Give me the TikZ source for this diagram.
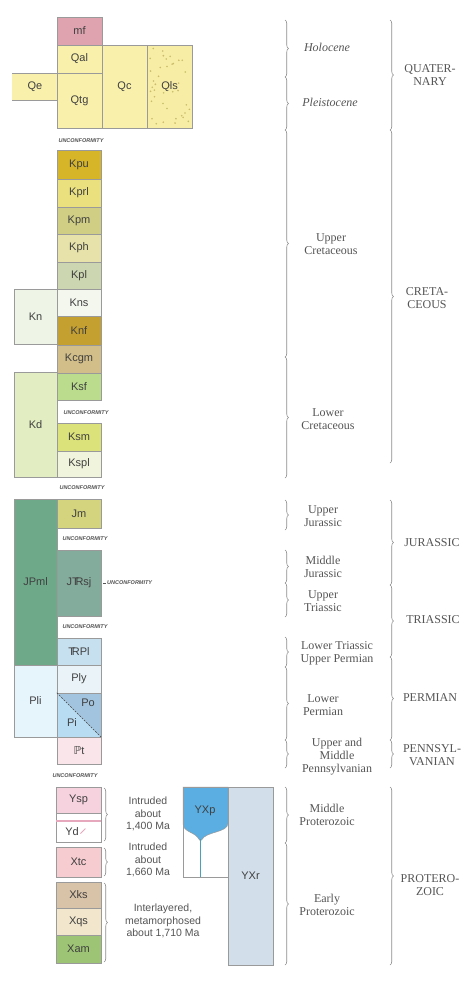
\documentclass[tikz,border=0pt]{standalone}
\usepackage{fontspec}
\setmainfont{Liberation Serif}
\setsansfont{Liberation Sans}
\newfontfamily\symfont{DejaVu Sans}
\usetikzlibrary{decorations.pathreplacing}

\definecolor{bordergray}{HTML}{9A9A9A}
\definecolor{labelgray}{HTML}{404040}
\definecolor{textgray}{HTML}{555555}
\definecolor{bracegray}{HTML}{8C8C8C}
\definecolor{cmf}{HTML}{DEA3AE}
\definecolor{cq}{HTML}{F9F0AC}
\definecolor{cqls}{HTML}{F7EDA4}
\definecolor{cdot}{HTML}{C9BC6A}
\definecolor{ckpu}{HTML}{D6B628}
\definecolor{ckprl}{HTML}{EAE07E}
\definecolor{ckpm}{HTML}{CFCE84}
\definecolor{ckph}{HTML}{E6E2AA}
\definecolor{ckpl}{HTML}{CCD6B0}
\definecolor{ckns}{HTML}{F4F7EE}
\definecolor{cknf}{HTML}{C4A030}
\definecolor{ckcgm}{HTML}{D2BE88}
\definecolor{cksf}{HTML}{BADC8C}
\definecolor{cksm}{HTML}{DCE27A}
\definecolor{ckspl}{HTML}{F0F4DC}
\definecolor{ckn}{HTML}{EEF5E6}
\definecolor{ckd}{HTML}{E2EEC2}
\definecolor{cjpml}{HTML}{6EAA8A}
\definecolor{cjm}{HTML}{D4D47E}
\definecolor{cjtrsj}{HTML}{84AC9C}
\definecolor{ctrpl}{HTML}{C6E0F0}
\definecolor{cpli}{HTML}{E6F4FC}
\definecolor{cply}{HTML}{EAF4F8}
\definecolor{cpo}{HTML}{A2C4DE}
\definecolor{cpi}{HTML}{B8DCF2}
\definecolor{cppt}{HTML}{FAE6EA}
\definecolor{cysp}{HTML}{F6D2DE}
\definecolor{cydline}{HTML}{E6A8BC}
\definecolor{cxtc}{HTML}{F6CCD0}
\definecolor{cxks}{HTML}{D8C2A8}
\definecolor{cxqs}{HTML}{F2E6CC}
\definecolor{cxam}{HTML}{9CC474}
\definecolor{cyxp}{HTML}{5AAEE2}
\definecolor{cyxpstem}{HTML}{4AA0B8}
\definecolor{cyxr}{HTML}{D2DEEA}

\newcommand{\trsym}{T\kern-0.3em R}
\newcommand{\ubox}[7]{\node[unit, fill=#6, minimum width=(#4-#2)*1pt, minimum height=(#5-#3)*1pt] (#1) at ({(#2+#4)/2},{(#3+#5)/2}) {#7};}

\tikzset{
  unit/.style={draw=bordergray, line width=0.5pt, rectangle, inner sep=0pt, text=labelgray,
    font=\sffamily\fontsize{11}{11}\selectfont},
  bracex/.style={decorate, decoration={brace, amplitude=3.5pt}, draw=bracegray, line width=0.6pt},
  era/.style={font=\fontsize{12}{13}\selectfont, text=textgray, align=center, inner sep=0pt},
  unconf/.style={font=\sffamily\bfseries\itshape\fontsize{5.5}{6}\selectfont, text=textgray, inner sep=0pt},
  note/.style={font=\sffamily\fontsize{10.5}{12.5}\selectfont, text=textgray, align=center, inner sep=0pt},
  lbl/.style={font=\sffamily\fontsize{11}{11}\selectfont, text=labelgray, inner sep=0pt},
}

\begin{document}
\begin{tikzpicture}[x=1pt,y=-1pt]
\useasboundingbox[fill=white] (0,0) rectangle (473,983);

% ---------------- Quaternary
\ubox{mf}{57}{17}{102}{45}{cmf}{mf}
\ubox{Qal}{57}{45}{102}{73}{cq}{Qal}
\ubox{Qtg}{57}{73}{102}{128}{cq}{Qtg}
\ubox{Qc}{102}{45}{147}{128}{cq}{Qc}
\ubox{Qls}{147}{45}{192}{128}{cqls}{}
\pgfmathsetseed{7}
\foreach \i in {1,...,40}{
  \fill[cdot] ({149+41*rnd},{47+79*rnd}) circle (0.9pt);
}
\node[lbl] (QlsL) at (169.5,86.5) {Qls};
\fill[cq] (12,73) rectangle (57,100);
\draw[bordergray, line width=0.5pt] (12,73) -- (57,73) (12,100) -- (57,100);
\node[lbl] (Qe) at (35,86.5) {Qe};

\node[unconf] (u1) at (81,141) {UNCONFORMITY};

% ---------------- Cretaceous
\ubox{Kpu}{57}{150}{101}{179}{ckpu}{Kpu}
\ubox{Kprl}{57}{179}{101}{207}{ckprl}{Kprl}
\ubox{Kpm}{57}{207}{101}{234}{ckpm}{Kpm}
\ubox{Kph}{57}{234}{101}{262}{ckph}{Kph}
\ubox{Kpl}{57}{262}{101}{289}{ckpl}{Kpl}
\ubox{Kns}{57}{289}{101}{316}{ckns}{Kns}
\ubox{Knf}{57}{316}{101}{345}{cknf}{Knf}
\ubox{Kcgm}{57}{345}{101}{373}{ckcgm}{Kcgm}
\ubox{Ksf}{57}{373}{101}{400}{cksf}{Ksf}
\ubox{Ksm}{57}{423}{101}{451}{cksm}{Ksm}
\ubox{Kspl}{57}{451}{101}{477}{ckspl}{Kspl}
\ubox{Kn}{14}{289}{57}{344}{ckn}{Kn}
\ubox{Kd}{14}{372}{57}{477}{ckd}{Kd}

\node[unconf] (u2) at (86,413) {UNCONFORMITY};
\node[unconf] (u3) at (82,488) {UNCONFORMITY};

% ---------------- Jurassic / Triassic
\ubox{JPml}{14}{499}{57}{665}{cjpml}{JPml}
\ubox{Jm}{57}{499}{101}{528}{cjm}{Jm}
\ubox{JTRsj}{57}{550}{101}{616}{cjtrsj}{J\trsym sj}
\ubox{TRPl}{57}{638}{101}{665}{ctrpl}{\trsym Pl}
\node[unconf] (u4) at (85,539) {UNCONFORMITY};
\node[unconf, anchor=west] (u5) at (107,583) {UNCONFORMITY};
\draw[textgray, line width=0.5pt] (JTRsj.east |- u5.west) ++(2,0) coordinate (d1) -- ++(3,0) coordinate (d2);
\node[unconf] (u6) at (85,627) {UNCONFORMITY};

% ---------------- Permian / Pennsylvanian
\ubox{Pli}{14}{665}{57}{737}{cpli}{Pli}
\ubox{Ply}{57}{665}{101}{693}{cply}{Ply}
\fill[cpo] (57,693) -- (101,693) -- (101,737) -- cycle;
\fill[cpi] (57,693) -- (101,737) -- (57,737) -- cycle;
\node[unit, fill=none, minimum width=44pt, minimum height=44pt] (PoPi) at (79,715) {};
\draw[labelgray, dashed, dash pattern=on 2pt off 1.2pt, line width=0.6pt] (PoPi.north west) -- (PoPi.south east);
\node[lbl] (Po) at (88,703) {Po};
\node[lbl] (Pi) at (72,723) {Pi};
\ubox{PPt}{57}{737}{101}{764}{cppt}{{\symfont ℙ}t}
\node[unconf] (u7) at (75,776) {UNCONFORMITY};

% ---------------- Proterozoic
\ubox{Ysp}{56}{787}{101}{813}{cysp}{Ysp}
\ubox{Yd}{56}{813}{101}{842}{white}{}
\draw[cydline, line width=1.6pt] (Yd.west |- 0,821) -- (Yd.east |- 0,821);
\node[lbl] (YdL) at (72,832) {Yd};
\draw[cydline, line width=0.8pt] (YdL.east) ++(1.5,1.5) -- ++(5,-5);
\ubox{Xtc}{56}{847}{101}{877}{cxtc}{Xtc}
\ubox{Xks}{56}{882}{101}{908}{cxks}{Xks}
\ubox{Xqs}{56}{908}{101}{935}{cxqs}{Xqs}
\ubox{Xam}{56}{935}{101}{963}{cxam}{Xam}

\draw[bracex] (104,788) -- (104,841);
\draw[bracex] (104,848) -- (104,876);
\draw[bracex] (104,883) -- (104,962);
\node[note] (n1) at (148,814) {Intruded\\about\\1,400 Ma};
\node[note] (n2) at (148,860) {Intruded\\about\\1,660 Ma};
\node[note] (n3) at (163,921) {Interlayered,\\metamorphosed\\about 1,710 Ma};

\ubox{YXpbox}{183}{787}{228}{877}{white}{}
\fill[cyxp, draw=bordergray, line width=0.5pt] (183,787) -- (228,787) -- (228,823)
  .. controls (228,833) and (206,831) .. (201.5,840) -- (199.5,840)
  .. controls (195,831) and (183,833) .. (183,823) -- cycle;
\draw[cyxpstem, line width=1.3pt] (200.5,839) -- (200.5,877);
\draw[bordergray, line width=0.5pt] (YXpbox.north west) rectangle (YXpbox.south east);
\node[lbl] (YXp) at (205,811) {YXp};
\ubox{YXr}{228}{787}{273}{965}{cyxr}{YXr}

% ---------------- Epoch braces (left)
\draw[bracex] (285,20) -- (285,77);
\draw[bracex] (285,77) -- (285,130);
\draw[bracex] (285,130) -- (285,357);
\draw[bracex] (285,357) -- (285,478);
\draw[bracex] (285,500) -- (285,530);
\draw[bracex] (285,550) -- (285,583);
\draw[bracex] (285,583) -- (285,617);
\draw[bracex] (285,637) -- (285,667);
\draw[bracex] (285,667) -- (285,740);
\draw[bracex] (285,740) -- (285,768);
\draw[bracex] (285,787) -- (285,843);
\draw[bracex] (285,843) -- (285,965);

\node[era, font=\itshape\fontsize{12}{13}\selectfont] (hol) at (327,47) {Holocene};
\node[era, font=\itshape\fontsize{12}{13}\selectfont] (ple) at (330,102) {Pleistocene};
\node[era] (ucr) at (331,244) {Upper\\Cretaceous};
\node[era] (lcr) at (328,419) {Lower\\Cretaceous};
\node[era] (uju) at (323,516) {Upper\\Jurassic};
\node[era] (mju) at (323,567) {Middle\\Jurassic};
\node[era] (utr) at (323,601) {Upper\\Triassic};
\node[era] (ltr) at (337,653) {Lower Triassic\\Upper Permian};
\node[era] (lpe) at (323,705) {Lower\\Permian};
\node[era] (pen) at (337,757) {Upper and\\Middle\\Pennsylvanian};
\node[era] (mpr) at (327,815) {Middle\\Proterozoic};
\node[era] (epr) at (327,905) {Early\\Proterozoic};

% ---------------- Period braces (right)
\draw[bracex] (390,20) -- (390,130);
\draw[bracex] (390,130) -- (390,463);
\draw[bracex] (390,500) -- (390,585);
\draw[bracex] (390,585) -- (390,657);
\draw[bracex] (390,657) -- (390,740);
\draw[bracex] (390,740) -- (390,768);
\draw[bracex] (390,787) -- (390,965);

\node[era] (qua) at (430,75) {QUATER-\\NARY};
\node[era] (cre) at (427,298) {CRETA-\\CEOUS};
\node[era] (jur) at (432,543) {JURASSIC};
\node[era] (tri) at (433,620) {TRIASSIC};
\node[era] (per) at (430,698) {PERMIAN};
\node[era] (pnn) at (432,755) {PENNSYL-\\VANIAN};
\node[era] (pro) at (430,885) {PROTERO-\\ZOIC};
\end{tikzpicture}
\end{document}
